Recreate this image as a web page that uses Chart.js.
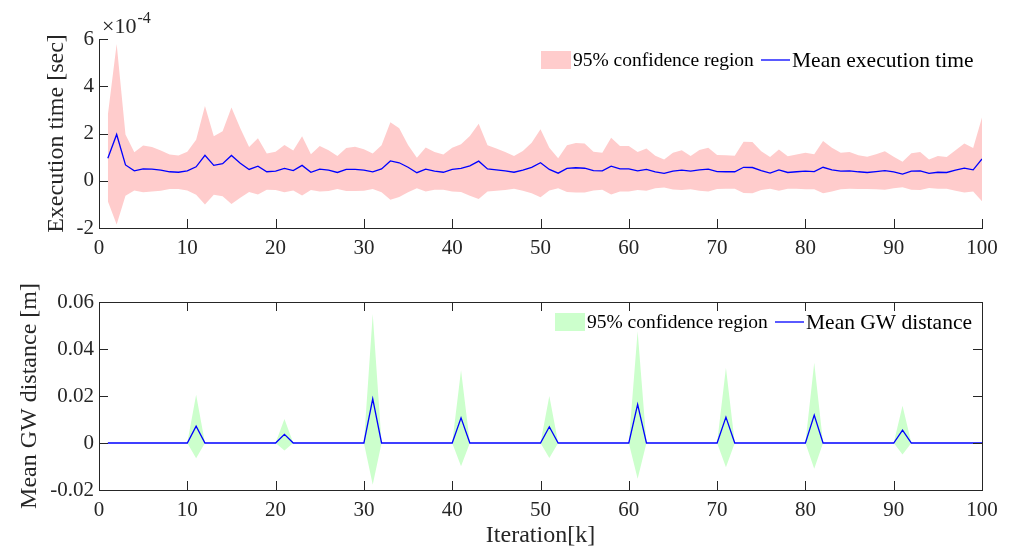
<!DOCTYPE html>
<html>
<head>
<meta charset="utf-8">
<script src="https://cdn.jsdelivr.net/npm/chart.js@4"></script>
<style>
  body { margin: 0; background: #fff; }
  canvas { position: absolute; left: 0; }
  #timeChart { top: 0; }
  #gwChart { top: 265px; }
</style>
</head>
<body>
<canvas id="timeChart" width="1009" height="265"></canvas>
<canvas id="gwChart" width="1009" height="285"></canvas>
<script>
// iteration index k = 1..100
const iterations = Array.from({ length: 100 }, (_, i) => i + 1);

// execution time per iteration, in units of 1e-4 s
const timeMean = [
  0.95, 1.96, 0.67, 0.42, 0.50, 0.49, 0.45, 0.38, 0.36, 0.42,
  0.59, 1.08, 0.65, 0.72, 1.07, 0.74, 0.48, 0.62, 0.38, 0.41,
  0.52, 0.43, 0.65, 0.36, 0.49, 0.45, 0.35, 0.48, 0.48, 0.45,
  0.38, 0.50, 0.84, 0.76, 0.57, 0.34, 0.49, 0.41, 0.36, 0.48,
  0.52, 0.63, 0.83, 0.50, 0.46, 0.42, 0.36, 0.45, 0.57, 0.76,
  0.48, 0.32, 0.52, 0.55, 0.53, 0.43, 0.42, 0.62, 0.50, 0.50,
  0.42, 0.48, 0.38, 0.31, 0.41, 0.45, 0.41, 0.46, 0.49, 0.39,
  0.38, 0.38, 0.57, 0.56, 0.43, 0.32, 0.46, 0.35, 0.38, 0.41,
  0.39, 0.57, 0.46, 0.41, 0.42, 0.38, 0.35, 0.39, 0.43, 0.38,
  0.28, 0.41, 0.42, 0.31, 0.36, 0.35, 0.45, 0.53, 0.46, 0.92
];
const timeUpper = [
  2.78, 5.79, 1.96, 1.21, 1.49, 1.43, 1.28, 1.11, 1.07, 1.23,
  1.74, 3.16, 1.88, 2.09, 3.10, 2.22, 1.43, 1.80, 1.15, 1.23,
  1.51, 1.28, 1.88, 1.12, 1.47, 1.29, 1.05, 1.39, 1.44, 1.33,
  1.15, 1.50, 2.48, 2.22, 1.51, 0.97, 1.41, 1.22, 1.11, 1.40,
  1.54, 1.89, 2.41, 1.50, 1.36, 1.22, 1.05, 1.26, 1.61, 2.18,
  1.40, 0.95, 1.50, 1.60, 1.58, 1.23, 1.19, 1.82, 1.47, 1.47,
  1.22, 1.36, 1.06, 0.90, 1.18, 1.29, 1.05, 1.30, 1.40, 1.09,
  1.08, 1.06, 1.65, 1.64, 1.25, 1.01, 1.32, 1.04, 1.11, 1.18,
  1.12, 1.68, 1.40, 1.18, 1.22, 1.08, 1.02, 1.12, 1.25, 1.02,
  0.80, 1.16, 1.22, 0.90, 1.05, 1.01, 1.29, 1.58, 1.39, 2.68
];
const timeLower = [
  -0.87, -1.85, -0.63, -0.41, -0.49, -0.46, -0.42, -0.35, -0.35, -0.41,
  -0.59, -1.01, -0.59, -0.66, -0.98, -0.72, -0.48, -0.58, -0.38, -0.39,
  -0.49, -0.41, -0.62, -0.39, -0.46, -0.43, -0.35, -0.43, -0.43, -0.42,
  -0.35, -0.49, -0.80, -0.69, -0.49, -0.32, -0.45, -0.38, -0.38, -0.45,
  -0.48, -0.63, -0.77, -0.46, -0.42, -0.39, -0.34, -0.42, -0.53, -0.70,
  -0.41, -0.32, -0.48, -0.50, -0.50, -0.41, -0.38, -0.58, -0.46, -0.46,
  -0.39, -0.42, -0.32, -0.29, -0.37, -0.39, -0.36, -0.42, -0.45, -0.35,
  -0.34, -0.34, -0.52, -0.53, -0.39, -0.34, -0.42, -0.34, -0.34, -0.36,
  -0.36, -0.53, -0.45, -0.36, -0.34, -0.35, -0.35, -0.36, -0.38, -0.32,
  -0.27, -0.38, -0.39, -0.31, -0.34, -0.34, -0.42, -0.50, -0.45, -0.87
];

// GW distance is zero except at these iterations
const gwPeakIter  = [11, 21, 31, 41, 51, 61, 71, 81, 91];
const gwPeakMean  = [0.0072, 0.0037, 0.0188, 0.0107, 0.0069, 0.0164, 0.0110, 0.0119, 0.0055];
const gwPeakUpper = [0.0205, 0.0102, 0.0549, 0.0310, 0.0200, 0.0476, 0.0320, 0.0342, 0.0158];
const gwPeakLower = [-0.0065, -0.0032, -0.0178, -0.0099, -0.0064, -0.0152, -0.0103, -0.0110, -0.0049];

// tick values
const iterTicks = [0, 10, 20, 30, 40, 50, 60, 70, 80, 90, 100];
const timeTicks = [-2, 0, 2, 4, 6];
const gwTicks = [-0.02, 0, 0.02, 0.04, 0.06];

const FONT = "'Liberation Serif', 'Times New Roman', serif";
const INK = '#262626';
const BLUE = '#0000ff';
const TICK_LEN = 9;

function gwSeries(peakVals) {
  return iterations.map(k => {
    const i = gwPeakIter.indexOf(k);
    return i < 0 ? 0 : peakVals[i];
  });
}

function points(values) {
  return iterations.map((k, i) => ({ x: k, y: values[i] }));
}

// pin the axis box size so both plot areas line up
function fixSize(w, h) {
  return scale => {
    if (w !== undefined) scale.width = w;
    if (h !== undefined) scale.height = h;
    scale.paddingLeft = scale.paddingRight = scale.paddingTop = scale.paddingBottom = 0;
  };
}

function useTicks(values) {
  return scale => { scale.ticks = values.map(v => ({ value: v })); };
}

function axis(position, min, max, ticks, extra) {
  return Object.assign({
    type: 'linear',
    position: position,
    min: min,
    max: max,
    afterBuildTicks: useTicks(ticks),
    grid: { drawOnChartArea: false, drawTicks: false },
    border: { color: INK, width: 1 },
    ticks: {
      font: { family: FONT, size: 21 },
      color: INK,
      maxRotation: 0,
      autoSkip: false
    }
  }, extra);
}

function datasets(mean, upper, lower, fill) {
  return [
    { data: points(mean), borderColor: BLUE, borderWidth: 1.3, pointRadius: 0, tension: 0, fill: false },
    { data: points(upper), borderWidth: 0, pointRadius: 0, backgroundColor: fill, fill: '+1' },
    { data: points(lower), borderWidth: 0, pointRadius: 0, backgroundColor: fill, fill: false }
  ];
}

// tick marks pointing into the plot area
const innerTicks = {
  id: 'innerTicks',
  afterDraw(chart) {
    const ctx = chart.ctx;
    const area = chart.chartArea;
    ctx.save();
    ctx.strokeStyle = INK;
    ctx.lineWidth = 1;
    ctx.beginPath();
    Object.values(chart.scales).forEach(scale => {
      scale.ticks.forEach(t => {
        const p = Math.round(scale.getPixelForValue(t.value)) + 0.5;
        if (scale.position === 'bottom') {
          ctx.moveTo(p, area.bottom); ctx.lineTo(p, area.bottom - TICK_LEN);
        } else if (scale.position === 'top') {
          ctx.moveTo(p, area.top); ctx.lineTo(p, area.top + TICK_LEN);
        } else if (scale.position === 'left') {
          ctx.moveTo(area.left, p); ctx.lineTo(area.left + TICK_LEN, p);
        } else {
          ctx.moveTo(area.right, p); ctx.lineTo(area.right - TICK_LEN, p);
        }
      });
    });
    ctx.stroke();
    ctx.restore();
  }
};

// legend sitting inside the plot area, no frame
const insetLegend = {
  id: 'insetLegend',
  afterDraw(chart, args, opts) {
    const ctx = chart.ctx;
    const ds = chart.data.datasets;
    ctx.save();
    ctx.fillStyle = ds[1].backgroundColor;
    ctx.fillRect(opts.boxX, opts.y - 9, 30, 18);
    ctx.strokeStyle = ds[0].borderColor;
    ctx.lineWidth = 1.3;
    ctx.beginPath();
    ctx.moveTo(opts.lineX, opts.y);
    ctx.lineTo(opts.lineX + 29, opts.y);
    ctx.stroke();
    ctx.fillStyle = '#000';
    ctx.textBaseline = 'middle';
    ctx.font = opts.bandSize + 'px ' + FONT;
    ctx.fillText(opts.bandLabel, opts.boxX + 32, opts.y + 1);
    ctx.font = opts.lineSize + 'px ' + FONT;
    ctx.fillText(opts.lineLabel, opts.lineX + 31, opts.y + 1);
    ctx.restore();
  }
};

// "x10^-4" multiplier above the y axis
const exponentLabel = {
  id: 'exponentLabel',
  afterDraw(chart, args, opts) {
    if (!opts.text) return;
    const ctx = chart.ctx;
    ctx.save();
    ctx.fillStyle = INK;
    ctx.textBaseline = 'alphabetic';
    ctx.font = '22px ' + FONT;
    ctx.fillText(opts.text, opts.x, opts.y);
    const w = ctx.measureText(opts.text).width;
    ctx.font = '16px ' + FONT;
    ctx.fillText(opts.power, opts.x + w + 1, opts.y - 10);
    ctx.restore();
  }
};

Chart.register(innerTicks, insetLegend, exponentLabel);

const tickFont = { family: FONT, size: 21 };
const titleFont = { family: FONT, size: 24 };

new Chart(document.getElementById('timeChart'), {
  type: 'line',
  data: { datasets: datasets(timeMean, timeUpper, timeLower, '#ffcccc') },
  options: {
    responsive: false,
    animation: false,
    events: [],
    layout: { padding: { left: 0, right: 27, top: 39, bottom: 0 } },
    scales: {
      x: axis('bottom', 0, 100, iterTicks, {
        afterFit: fixSize(undefined, 37),
        ticks: { font: tickFont, color: INK, padding: 8, maxRotation: 0, autoSkip: false }
      }),
      y: axis('left', -2, 6, timeTicks, {
        afterFit: fixSize(99, undefined),
        ticks: { font: tickFont, color: INK, padding: 5, autoSkip: false },
        title: { display: true, text: 'Execution time [sec]', color: INK, font: titleFont, padding: { top: 42, bottom: 0 } }
      })
    },
    plugins: {
      legend: { display: false },
      tooltip: { enabled: false },
      insetLegend: { boxX: 541, lineX: 761, y: 60, bandSize: 19.5, lineSize: 21.5, bandLabel: '95% confidence region', lineLabel: 'Mean execution time' },
      exponentLabel: { text: '\u00d710', power: '-4', x: 102, y: 33 }
    }
  }
});

new Chart(document.getElementById('gwChart'), {
  type: 'line',
  data: { datasets: datasets(gwSeries(gwPeakMean), gwSeries(gwPeakUpper), gwSeries(gwPeakLower), '#ccffcc') },
  options: {
    responsive: false,
    animation: false,
    events: [],
    layout: { padding: { left: 0, right: 27, top: 37, bottom: 0 } },
    scales: {
      x: axis('bottom', 0, 100, iterTicks, {
        afterFit: fixSize(undefined, 60),
        ticks: { font: tickFont, color: INK, padding: 8, maxRotation: 0, autoSkip: false },
        title: { display: true, text: 'Iteration[k]', color: INK, font: titleFont, padding: { top: 0, bottom: 0 } }
      }),
      x2: axis('top', 0, 100, iterTicks, {
        afterFit: fixSize(undefined, 0),
        ticks: { display: false }
      }),
      y: axis('left', -0.02, 0.06, gwTicks, {
        afterFit: fixSize(99, undefined),
        ticks: {
          font: tickFont, color: INK, padding: 5, autoSkip: false,
          callback: v => (v === 0 ? '0' : v.toFixed(2))
        },
        title: { display: true, text: 'Mean GW distance [m]', color: INK, font: titleFont, padding: { top: 15, bottom: 0 } }
      }),
      y2: axis('right', -0.02, 0.06, gwTicks, {
        afterFit: fixSize(0, undefined),
        ticks: { display: false }
      })
    },
    plugins: {
      legend: { display: false },
      tooltip: { enabled: false },
      insetLegend: { boxX: 555, lineX: 775, y: 57, bandSize: 19.5, lineSize: 21.5, bandLabel: '95% confidence region', lineLabel: 'Mean GW distance' },
      exponentLabel: { text: '' }
    }
  }
});
</script>
</body>
</html>
